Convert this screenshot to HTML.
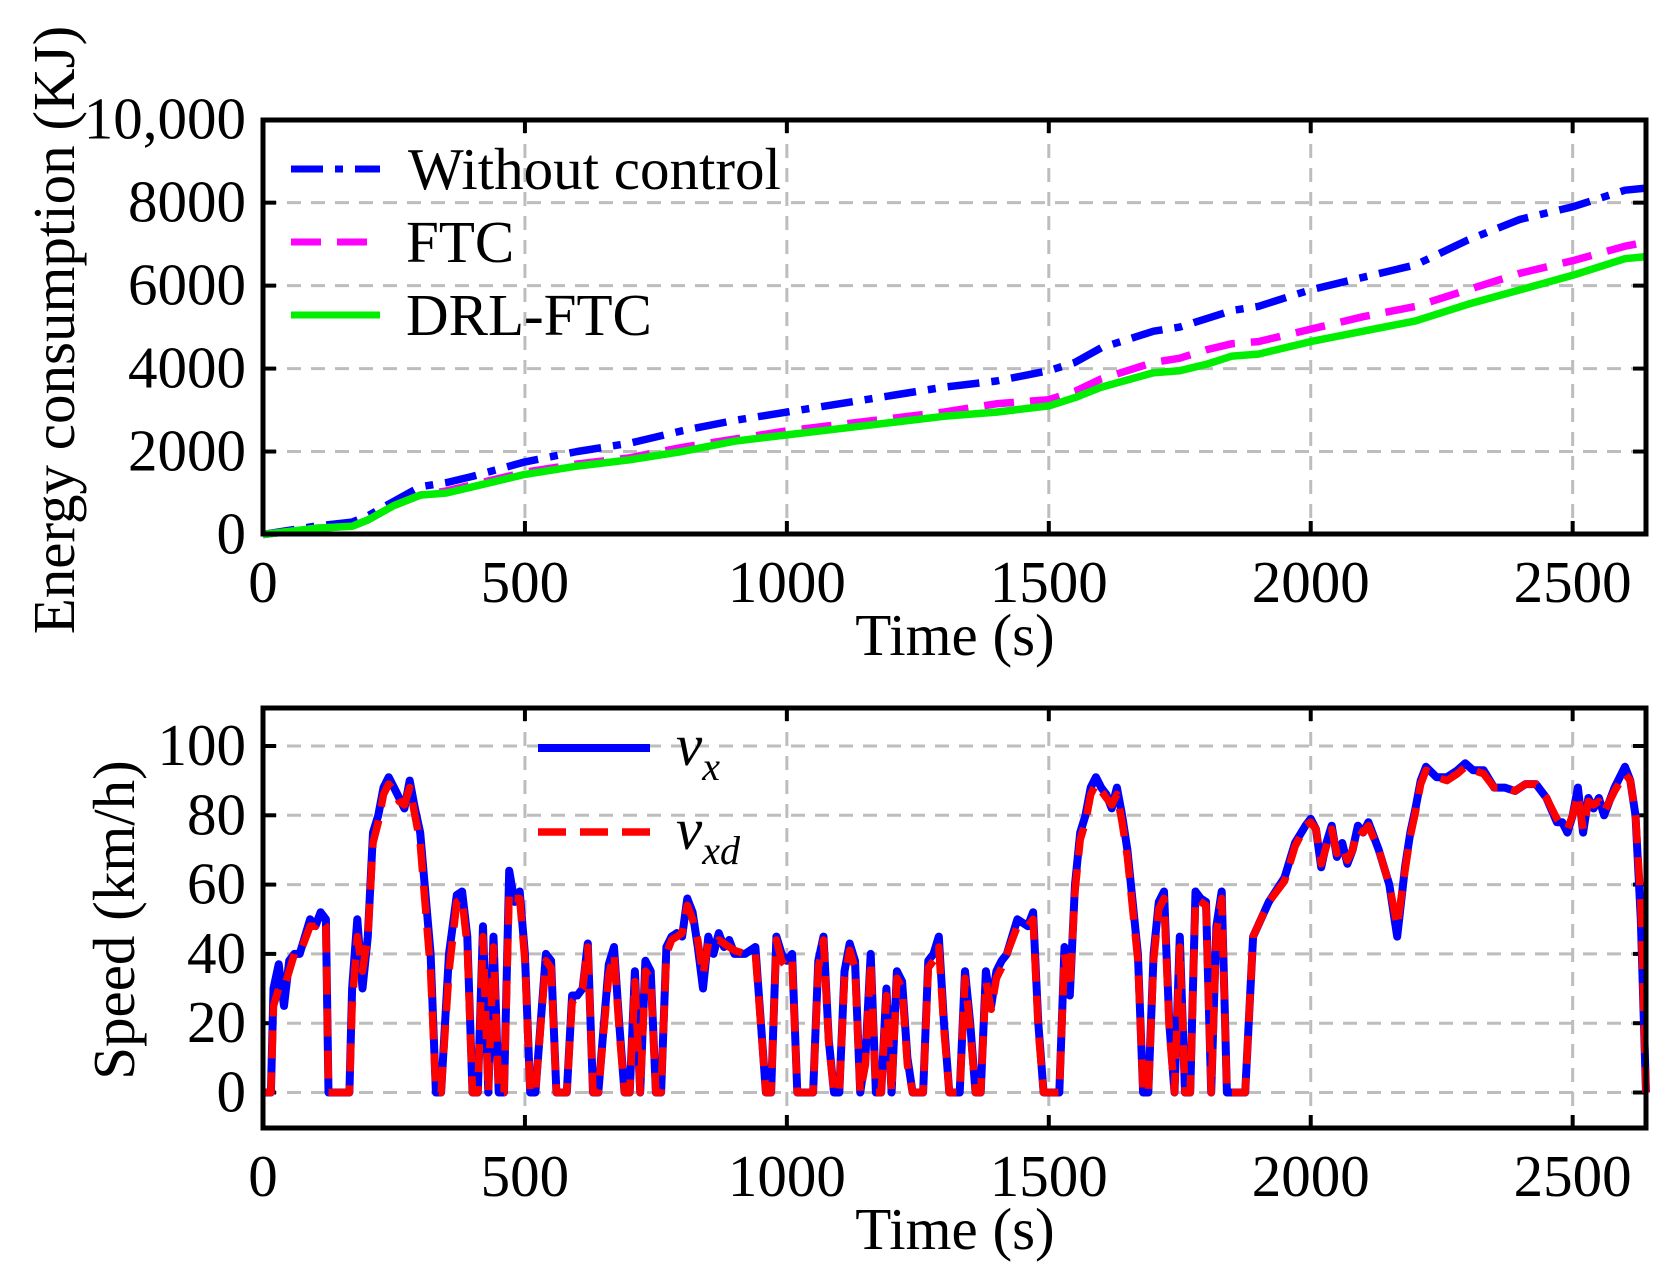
<!DOCTYPE html>
<html><head><meta charset="utf-8"><style>
body{margin:0;background:#fff}
svg{display:block;font-family:"Liberation Serif",serif}
</style></head><body>
<svg id="chart" width="1668" height="1270" viewBox="0 0 1668 1270" xmlns="http://www.w3.org/2000/svg"></svg>
<script>
const xTicks=[0,500,1000,1500,2000,2500];
const eTicks=[0,2000,4000,6000,8000,10000];
const eTickLabels=["0","2000","4000","6000","8000","10,000"];
const sTicks=[0,20,40,60,80,100];
const eTime=[0,100,170,200,250,300,350,400,500,600,700,800,900,1000,1100,1200,1300,1400,1500,1550,1600,1700,1750,1800,1850,1900,2000,2100,2200,2300,2400,2500,2600,2640];
const eWithout=[0,200,300,450,800,1150,1250,1400,1750,2000,2200,2500,2750,2950,3150,3350,3550,3700,3950,4150,4500,4900,5000,5200,5400,5500,5900,6200,6500,7100,7600,7900,8300,8350];
const eFTC=[0,150,200,350,700,950,1050,1200,1500,1700,1850,2100,2300,2500,2650,2800,2950,3150,3250,3450,3750,4150,4250,4450,4600,4650,4950,5250,5500,5900,6300,6600,6950,7050];
const eDRL=[0,150,200,350,700,950,1000,1150,1450,1650,1800,2000,2250,2400,2550,2700,2850,2950,3100,3300,3550,3900,3950,4100,4300,4350,4650,4900,5150,5550,5900,6250,6650,6700];
const sTime=[0,15,20,30,40,50,60,70,80,90,100,110,120,125,165,170,180,190,200,210,220,230,240,250,260,270,280,290,300,320,330,340,355,370,380,390,400,410,420,430,440,450,460,470,480,490,500,510,520,540,550,560,580,590,600,610,620,630,640,660,670,680,690,700,710,720,730,740,750,760,770,780,790,800,810,820,830,840,850,860,870,880,890,900,920,940,960,970,980,990,1000,1010,1020,1050,1060,1070,1080,1090,1100,1110,1120,1130,1140,1150,1160,1170,1180,1190,1200,1210,1220,1230,1240,1260,1270,1280,1290,1300,1310,1330,1340,1350,1360,1370,1380,1390,1400,1410,1420,1430,1440,1460,1470,1480,1490,1520,1530,1540,1550,1560,1570,1580,1590,1600,1610,1620,1630,1640,1650,1670,1680,1690,1700,1710,1720,1730,1740,1750,1760,1770,1780,1790,1800,1810,1820,1830,1840,1850,1860,1870,1875,1890,1920,1950,1970,1990,2000,2010,2020,2030,2040,2050,2060,2070,2080,2090,2100,2110,2130,2150,2165,2180,2190,2200,2210,2220,2240,2260,2280,2295,2310,2330,2350,2370,2390,2410,2430,2450,2470,2480,2490,2500,2510,2520,2530,2540,2550,2560,2580,2600,2610,2620,2630,2640];
const vx=[0,0,30,37,25,38,40,40,45,50,48,52,50,0,0,30,50,30,45,75,80,88,91,88,85,82,90,82,75,40,0,0,40,57,58,45,0,0,48,0,45,0,0,64,55,58,40,0,0,40,38,0,0,28,28,30,43,0,0,37,42,20,0,0,35,0,38,35,0,0,42,45,46,45,56,52,42,30,45,40,46,42,44,40,40,42,0,0,45,40,38,40,0,0,38,45,15,0,0,35,43,38,0,10,40,0,0,30,0,35,32,10,0,0,38,40,45,20,0,0,35,20,0,0,35,25,35,38,40,45,50,48,52,20,0,0,42,28,60,75,80,88,91,88,86,82,88,80,70,40,0,0,40,55,58,20,0,45,0,0,58,56,55,0,48,58,0,0,0,0,0,45,55,62,72,77,79,76,65,72,77,68,72,66,70,77,75,78,70,60,45,65,75,82,90,94,91,91,93,95,93,93,88,88,87,89,89,85,78,78,75,80,88,75,85,82,85,80,88,94,90,80,50,0];
const vxd=[0,0,25,30,30,35,40,40,44,48,48,50,48,0,0,25,45,35,45,72,78,86,89,87,84,83,88,80,72,35,0,0,35,55,56,42,0,0,45,0,42,0,0,58,56,56,38,0,0,38,36,0,0,26,28,30,42,0,0,34,40,18,0,0,32,0,35,33,0,0,40,44,45,46,54,50,44,34,43,42,44,43,42,41,40,40,0,0,44,38,36,38,0,0,36,44,14,0,0,33,41,36,0,8,38,0,0,28,0,33,30,8,0,0,36,38,42,18,0,0,33,18,0,0,32,24,33,36,40,44,48,48,50,18,0,0,40,30,58,73,78,86,89,87,85,83,86,78,68,38,0,0,38,53,56,18,0,42,0,0,56,55,54,0,46,56,0,0,0,0,0,45,55,61,71,77,78,76,66,71,76,69,71,67,70,76,75,77,70,60,48,64,74,81,89,93,91,90,92,94,93,92,88,88,87,89,89,85,79,77,76,80,86,76,84,83,84,81,87,92,90,80,55,0];

const svg=document.getElementById('chart');
const NS='http://www.w3.org/2000/svg';
function mk(tag,attrs,parent){const e=document.createElementNS(NS,tag);for(const k in attrs)e.setAttribute(k,attrs[k]);(parent||svg).appendChild(e);return e;}

const L=263,R=1646;
const xS=t=>L+(t/2640)*(R-L);
const P1={top:120,bot:534};
const eY=v=>534.5-(v/10000)*(534.5-119.7);
const P2={top:708,bot:1128};
const sY=v=>1092.5-(v/100)*(1092.5-746);
const FS=59;

function pathD(xs,ys,fx,fy){return xs.map((t,i)=>(i?'L':'M')+fx(t).toFixed(1)+','+fy(ys[i]).toFixed(1)).join(' ');}

function axes(P,yT,yF,yLab,name){
  const g=mk('g',{});
  
  
  xTicks.forEach(t=>{if(t>0){const l=mk('line',{x1:xS(t),x2:xS(t),y1:P.top,y2:P.bot,stroke:'#bdbdbd','stroke-width':3,'stroke-dasharray':'14,10'},g);
    }
    mk('line',{x1:xS(t),x2:xS(t),y1:P.bot,y2:P.bot-13,stroke:'#000','stroke-width':4},g);
    mk('line',{x1:xS(t),x2:xS(t),y1:P.top,y2:P.top+13,stroke:'#000','stroke-width':4},g);
    const tx=mk('text',{x:xS(t),y:P.bot+68,'font-size':FS,'text-anchor':'middle'},g);tx.textContent=t;
    
  });
  yT.forEach((v,i)=>{const y=yF(v);
    if(y>P.top+3&&y<P.bot-3){const l=mk('line',{x1:L,x2:R,y1:y,y2:y,stroke:'#bdbdbd','stroke-width':3,'stroke-dasharray':'14,10'},g);
      }
    mk('line',{x1:L,x2:L+13,y1:y,y2:y,stroke:'#000','stroke-width':4},g);
    mk('line',{x1:R,x2:R-13,y1:y,y2:y,stroke:'#000','stroke-width':4},g);
    const tx=mk('text',{x:L-17,y:y+19,'font-size':FS,'text-anchor':'end'},g);tx.textContent=yLab[i];
    
  });
}
function frame(P,name){const r=mk('rect',{x:L,y:P.top,width:R-L,height:P.bot-P.top,fill:'none',stroke:'#000','stroke-width':5});
  }

axes(P1,eTicks,eY,eTickLabels,'energy');
const series1=[[eWithout,'#0000ff','32,12,8,12','line-without-control'],[eFTC,'#ff00ff','30,16','line-ftc'],[eDRL,'#00ee00','none','line-drl-ftc']];
series1.forEach(s=>{const p=mk('path',{d:pathD(eTime,s[0],xS,eY),fill:'none',stroke:s[1],'stroke-width':7.5,'stroke-dasharray':s[2],'stroke-linejoin':'round'});
  });
frame(P1,'energy-plot');

axes(P2,sTicks,sY,sTicks.map(String),'speed');
const pv=mk('path',{d:pathD(sTime,vx,xS,sY),fill:'none',stroke:'#0000ff','stroke-width':8,'stroke-linejoin':'round'});

const pd=mk('path',{d:pathD(sTime,vxd,xS,sY),fill:'none',stroke:'#ff0000','stroke-width':7.5,'stroke-dasharray':'28,14','stroke-linejoin':'round'});

frame(P2,'speed-plot');
</script>
<svg style="position:absolute;left:0;top:0" width="1668" height="1270" xmlns="http://www.w3.org/2000/svg" font-family="Liberation Serif, serif">
  <g>
    <g>
      <line x1="291" x2="380" y1="169" y2="169" stroke="#0000ff" stroke-width="7" stroke-dasharray="32,12,8,12"/>
      <text x="408" y="189" font-size="59">Without control</text>
    </g>
    <g>
      <line x1="291" x2="380" y1="242" y2="242" stroke="#ff00ff" stroke-width="7" stroke-dasharray="30,16"/>
      <text x="406" y="262" font-size="59">FTC</text>
    </g>
    <g>
      <line x1="291" x2="380" y1="315" y2="315" stroke="#00ee00" stroke-width="7"/>
      <text x="406" y="335" font-size="59">DRL-FTC</text>
    </g>
  </g>
  <g>
    <g>
      <line x1="538" x2="650" y1="748" y2="748" stroke="#0000ff" stroke-width="8"/>
      <text x="676" y="765" font-size="59" font-style="italic">v<tspan font-size="40" dy="15">x</tspan></text>
    </g>
    <g>
      <line x1="538" x2="650" y1="832" y2="832" stroke="#ff0000" stroke-width="7.5" stroke-dasharray="28,14"/>
      <text x="676" y="849" font-size="59" font-style="italic">v<tspan font-size="40" dy="15">xd</tspan></text>
    </g>
  </g>
  <text transform="translate(74,330) rotate(-90)" text-anchor="middle" font-size="59">Energy consumption (KJ)</text>
  <text x="955" y="655" text-anchor="middle" font-size="59">Time (s)</text>
  <text transform="translate(134,920) rotate(-90)" text-anchor="middle" font-size="59">Speed (km/h)</text>
  <text x="955" y="1249" text-anchor="middle" font-size="59">Time (s)</text>
</svg>
</body></html>
